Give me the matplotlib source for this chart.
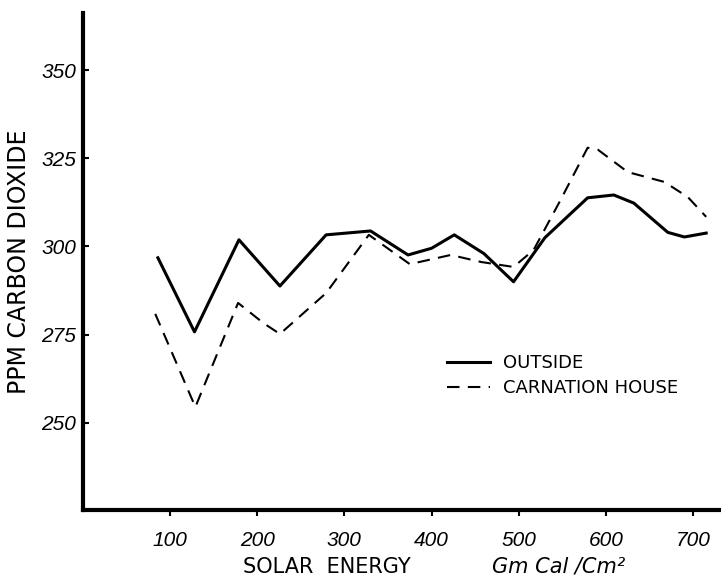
import matplotlib
matplotlib.use("Agg")
import matplotlib.pyplot as plt

# values
outside_x = [86, 128, 179, 226, 279, 330, 373, 400, 426, 460, 494, 530, 579, 609, 632, 671, 690, 715]
outside_y = [296.8, 275.8, 301.9, 288.8, 303.3, 304.4, 297.6, 299.5, 303.3, 298.0, 290.0, 302.5, 313.8, 314.6, 312.3, 304.0, 302.7, 303.8]

house_x = [83, 129, 178, 207, 226, 279, 328, 375, 422, 457, 494, 517, 548, 579, 591, 625, 667, 694, 715]
house_y = [280.9, 254.5, 284.0, 278.3, 275.2, 286.8, 303.3, 295.0, 297.6, 295.6, 294.2, 299.0, 313.2, 328.0, 327.4, 321.1, 318.3, 314.0, 308.4]

xticks = [100, 200, 300, 400, 500, 600, 700]
yticks = [250, 275, 300, 325, 350]

hand = "Liberation Sans"

fig = plt.figure(figsize=(7.21, 5.78), dpi=100)
ax = fig.add_axes([0.115, 0.1176, 0.885, 0.86])

ax.plot(outside_x, outside_y, color="black", lw=2.2, solid_joinstyle="round",
        label="OUTSIDE")
ax.plot(house_x, house_y, color="black", lw=1.5, dashes=(6, 4),
        label="CARNATION HOUSE")

ax.set_xlim(0, 732)
ax.set_ylim(225.3, 366.2)
ax.spines["top"].set_visible(False)
ax.spines["right"].set_visible(False)
ax.spines["left"].set_linewidth(3)
ax.spines["bottom"].set_linewidth(3)

ax.set_xticks(xticks)
ax.set_yticks(yticks)
ax.set_xticklabels([str(v) for v in xticks], family=hand, style="italic", fontsize=15)
ax.set_yticklabels([str(v) for v in yticks], family=hand, style="italic", fontsize=15)
ax.tick_params(axis="x", direction="out", length=4, width=1.5, pad=11)
ax.tick_params(axis="y", direction="in", length=4, width=1.5, pad=5)

ax.set_ylabel("PPM CARBON DIOXIDE", family="DejaVu Sans", fontsize=17)
ax.yaxis.set_label_coords(-0.082, 0.5)

fig.text(0.453, 0.009, "SOLAR  ENERGY", family="DejaVu Sans", fontsize=15, ha="center")
fig.text(0.775, 0.009, "Gm Cal /Cm²", family="DejaVu Sans", fontsize=15,
         style="italic", ha="center")

leg = ax.legend(loc="center left", bbox_to_anchor=(0.545, 0.27), frameon=False,
                prop={"family": "DejaVu Sans", "size": 13}, handlelength=2.4,
                handletextpad=0.7, labelspacing=0.4)

fig.savefig("out.png", dpi=100)
